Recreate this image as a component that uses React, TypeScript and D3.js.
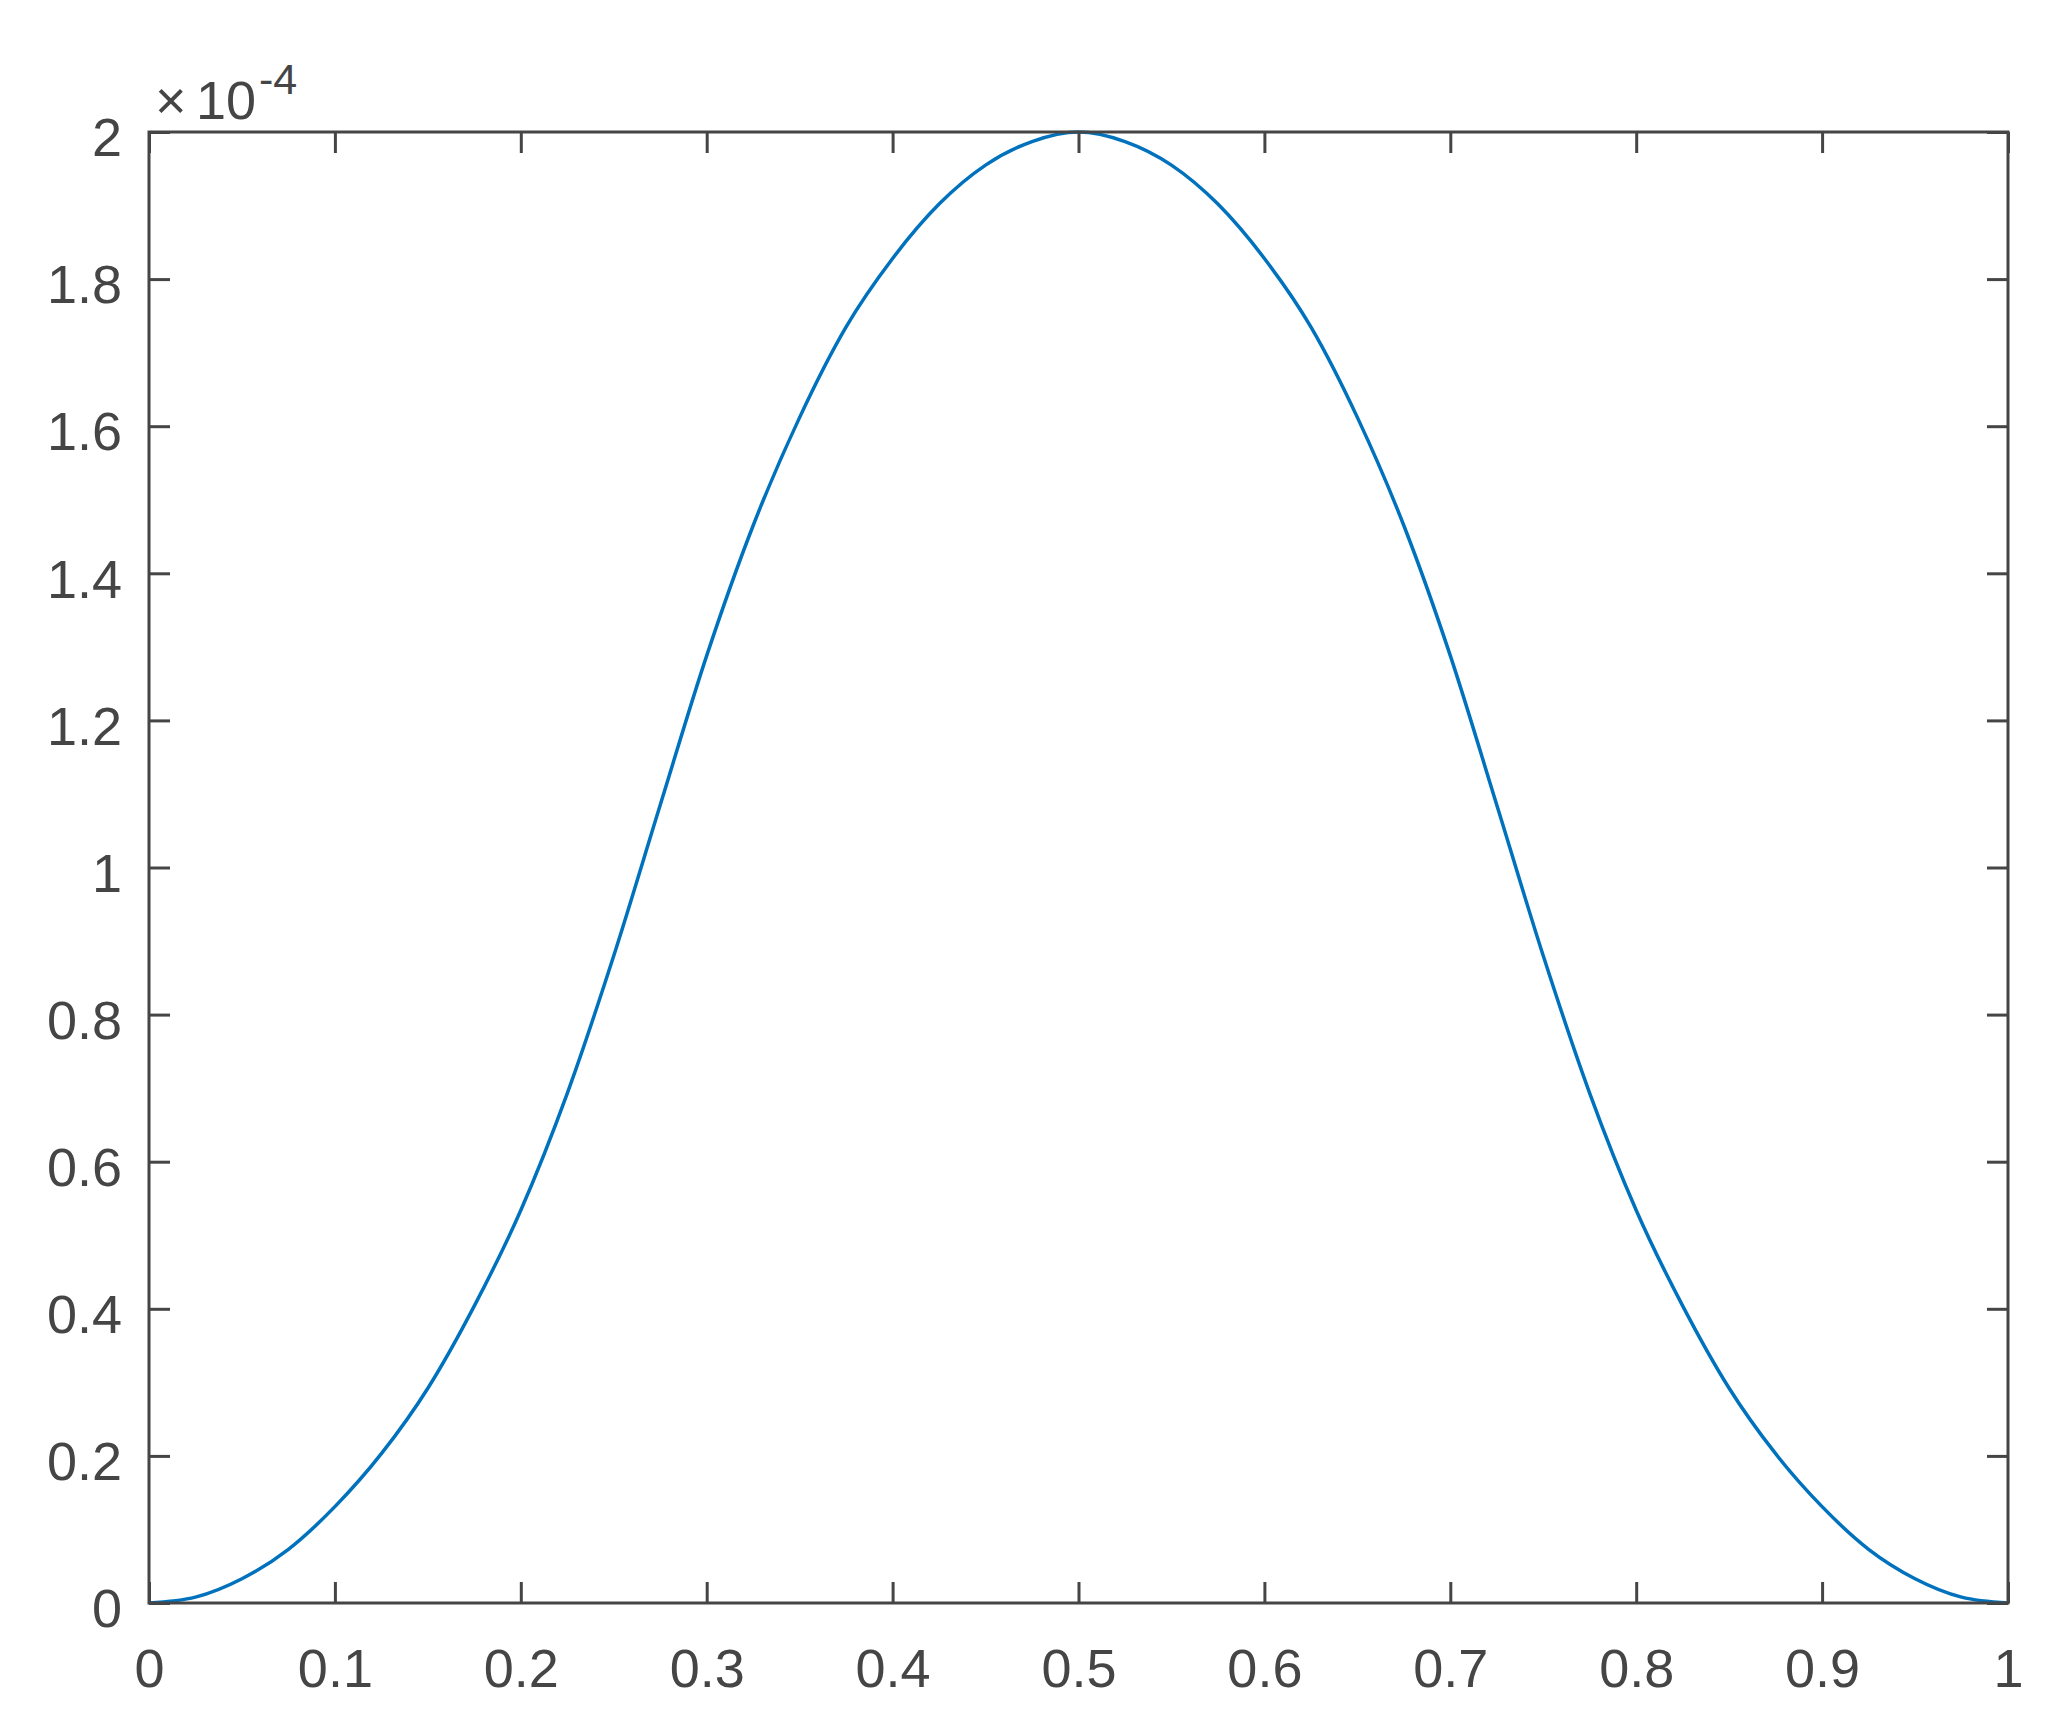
import React, { useEffect, useRef } from 'react';
import * as d3 from 'd3';

// curve values (units of 1e-4)
const xs = [
  0, 0.025, 0.05, 0.075, 0.1, 0.125, 0.15, 0.175, 0.2, 0.225,
  0.25, 0.275, 0.3, 0.325, 0.35, 0.375, 0.4, 0.425, 0.45, 0.475,
  0.5, 0.525, 0.55, 0.575, 0.6, 0.625, 0.65, 0.675, 0.7, 0.725,
  0.75, 0.775, 0.8, 0.825, 0.85, 0.875, 0.9, 0.925, 0.95, 0.975, 1,
];
const ys = [
  0, 0.008, 0.033, 0.073, 0.131, 0.203, 0.292, 0.404, 0.534, 0.693,
  0.88, 1.085, 1.288, 1.465, 1.612, 1.735, 1.828, 1.902, 1.955, 1.987,
  2.0, 1.987, 1.955, 1.902, 1.828, 1.735, 1.612, 1.465, 1.288, 1.085,
  0.88, 0.693, 0.534, 0.404, 0.292, 0.203, 0.131, 0.073, 0.033, 0.008, 0,
];

const xTicks = [0, 0.1, 0.2, 0.3, 0.4, 0.5, 0.6, 0.7, 0.8, 0.9, 1];
const xTickLabels = ['0', '0.1', '0.2', '0.3', '0.4', '0.5', '0.6', '0.7', '0.8', '0.9', '1'];
const yTicks = [0, 0.2, 0.4, 0.6, 0.8, 1, 1.2, 1.4, 1.6, 1.8, 2];
const yTickLabels = ['0', '0.2', '0.4', '0.6', '0.8', '1', '1.2', '1.4', '1.6', '1.8', '2'];

const W = 2069;
const H = 1720;
const margin = { top: 132, right: 61, bottom: 117, left: 149 };
const width = W - margin.left - margin.right;
const height = H - margin.top - margin.bottom;

const axisColor = '#454545';
const lineColor = '#0072BD';
const font = '"Liberation Sans", Arial, Helvetica, sans-serif';
const fontSize = 54;
const tickLen = 21;

export default function App() {
  const ref = useRef<SVGSVGElement>(null);

  useEffect(() => {
    const svg = d3.select(ref.current);
    svg.selectAll('*').remove();

    const x = d3.scaleLinear().domain([0, 1]).range([0, width]);
    const y = d3.scaleLinear().domain([0, 2]).range([height, 0]);

    const g = svg.append('g')
      .attr('transform', `translate(${margin.left},${margin.top})`);

    const pts = xs.map((d, i) => [d, ys[i]] as [number, number]);
    const line = d3.line<[number, number]>()
      .x(d => x(d[0]))
      .y(d => y(d[1]))
      .curve(d3.curveMonotoneX);

    g.append('path')
      .datum(pts)
      .attr('d', line)
      .attr('fill', 'none')
      .attr('stroke', lineColor)
      .attr('stroke-width', 3.5);

    const style = (sel: any) => {
      sel.select('.domain').remove();
      sel.selectAll('line')
        .attr('stroke', axisColor)
        .attr('stroke-width', 3);
      sel.selectAll('text')
        .attr('fill', axisColor)
        .style('font-family', font)
        .style('font-size', fontSize + 'px');
    };

    g.append('g')
      .attr('transform', `translate(0,${height})`)
      .call(d3.axisBottom(x).tickValues(xTicks)
        .tickFormat((d, i) => xTickLabels[i])
        .tickSizeInner(-tickLen).tickSizeOuter(0))
      .call(style)
      .selectAll('text')
      .attr('y', 84)
      .attr('dy', null);

    g.append('g')
      .call(d3.axisTop(x).tickValues(xTicks)
        .tickFormat(() => '')
        .tickSizeInner(-tickLen).tickSizeOuter(0))
      .call(style);

    g.append('g')
      .call(d3.axisLeft(y).tickValues(yTicks)
        .tickFormat((d, i) => yTickLabels[i])
        .tickSizeInner(-tickLen).tickSizeOuter(0))
      .call(style)
      .selectAll('text')
      .attr('x', -27)
      .attr('dy', null)
      .attr('y', 0.44 * fontSize);

    g.append('g')
      .attr('transform', `translate(${width},0)`)
      .call(d3.axisRight(y).tickValues(yTicks)
        .tickFormat(() => '')
        .tickSizeInner(-tickLen).tickSizeOuter(0))
      .call(style);

    // box
    g.append('rect')
      .attr('x', 0)
      .attr('y', 0)
      .attr('width', width)
      .attr('height', height)
      .attr('fill', 'none')
      .attr('stroke', axisColor)
      .attr('stroke-width', 3);

    // exponent label
    const ex = g.append('g')
      .attr('fill', axisColor)
      .style('font-family', font);
    ex.append('text')
      .attr('x', 155 - margin.left)
      .attr('y', 119 - margin.top)
      .style('font-size', fontSize + 'px')
      .text('\u00d7');
    ex.append('text')
      .attr('x', 196 - margin.left)
      .attr('y', 119 - margin.top)
      .style('font-size', fontSize + 'px')
      .text('10');
    ex.append('text')
      .attr('x', 259 - margin.left)
      .attr('y', 94 - margin.top)
      .style('font-size', '43px')
      .text('-4');
  }, []);

  return (
    <svg
      ref={ref}
      width={W}
      height={H}
      style={{ position: 'absolute', left: 0, top: 0, background: '#fff' }}
    />
  );
}
